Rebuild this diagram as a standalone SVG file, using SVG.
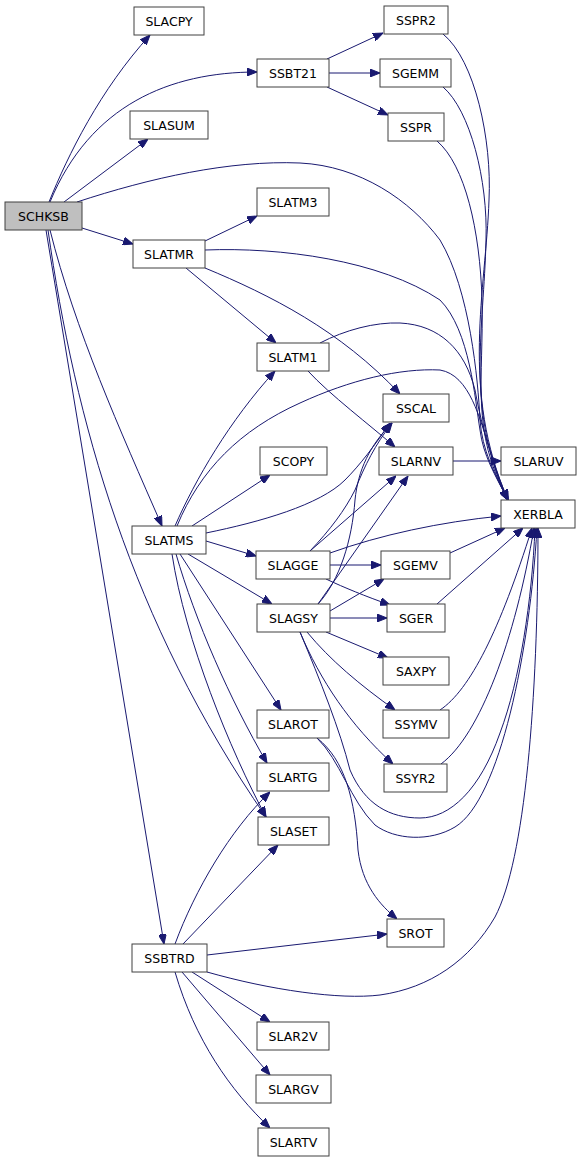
<svg xmlns="http://www.w3.org/2000/svg" width="581" height="1163" viewBox="0 0 581 1163">
<style>
.n rect{fill:#fff;stroke:#404040;stroke-width:1}
.n text{font-family:"DejaVu Sans",sans-serif;font-size:12.5px;text-anchor:middle;fill:#000}
.e path{fill:none;stroke:#191970;stroke-width:1;marker-end:url(#a)}
</style>
<defs>
<marker id="a" markerUnits="userSpaceOnUse" markerWidth="10" markerHeight="8" refX="10" refY="4" orient="auto">
<path d="M0,0 L10,4 L0,8 z" fill="#191970" stroke="#191970" stroke-width="1"/>
</marker>
</defs>
<rect width="581" height="1163" fill="#fff"/>
<g class="e">
<path d="M49,202 C68,155 100,90 150,35"/>
<path d="M50,202 C90,105 170,72 257,72"/>
<path d="M64,202 L148,139"/>
<path d="M77,202 C150,178 230,160 300,163 C360,166 410,200 440,240 C470,290 478,380 480,420 C482,450 495,475 508,500"/>
<path d="M82,228 L133,244"/>
<path d="M50,230 C75,330 120,430 162,526"/>
<path d="M48,230 C75,420 130,620 266,817"/>
<path d="M46,230 L164,944"/>
<path d="M327,59 L383,33"/>
<path d="M329,73 L380,73"/>
<path d="M327,87 L388,115"/>
<path d="M443,34 C475,60 492,140 489,200 C486,290 460,390 508,500"/>
<path d="M443,87 C470,110 488,180 486,240 C484,330 465,410 508,500"/>
<path d="M437,141 C465,165 480,230 482,300 C484,380 470,430 508,500"/>
<path d="M205,241 L257,216"/>
<path d="M186,268 L276,343"/>
<path d="M205,268 C270,295 340,330 400,394"/>
<path d="M205,250 C280,247 380,260 440,300 C470,330 475,400 480,430 C483,455 495,475 508,500"/>
<path d="M320,343 C345,330 375,322 400,323 C440,325 465,350 475,390 C482,430 495,470 508,500"/>
<path d="M308,371 C330,395 370,425 395,447"/>
<path d="M175,526 C195,480 230,420 275,371"/>
<path d="M192,526 L270,475"/>
<path d="M206,533 C260,522 320,505 345,480 C360,465 375,445 390,423"/>
<path d="M177,526 C200,470 240,430 300,403 C350,380 400,368 440,370 C470,375 480,420 490,450 C495,470 500,485 508,500"/>
<path d="M206,541 L256,556"/>
<path d="M188,554 L272,604"/>
<path d="M180,554 L281,710"/>
<path d="M176,554 C195,620 230,700 267,763"/>
<path d="M172,554 C185,640 230,750 266,817"/>
<path d="M310,551 C330,530 345,510 355,490 C365,465 375,445 392,423"/>
<path d="M310,551 L396,476"/>
<path d="M330,553 C380,535 440,522 501,516"/>
<path d="M330,565 L381,565"/>
<path d="M326,579 C345,588 365,596 390,605"/>
<path d="M318,604 C340,580 352,540 355,500 C358,470 370,445 392,423"/>
<path d="M318,604 L408,476"/>
<path d="M330,611 L384,579"/>
<path d="M330,618 L387,618"/>
<path d="M326,632 L388,658"/>
<path d="M307,632 C330,660 360,685 395,710"/>
<path d="M300,632 C320,680 350,725 393,764"/>
<path d="M300,632 C320,680 340,730 350,770 C365,805 390,818 420,818 C450,818 480,790 500,733 C520,680 532,600 535,528"/>
<path d="M317,738 C340,760 350,800 375,825 C395,840 430,842 455,827 C500,800 530,650 537,528"/>
<path d="M317,738 C345,760 355,800 358,850 C362,885 380,905 397,919"/>
<path d="M450,553 L505,528"/>
<path d="M437,604 L523,528"/>
<path d="M440,710 C470,690 500,630 532,528"/>
<path d="M441,764 C480,735 515,640 534,528"/>
<path d="M453,461 L501,461"/>
<path d="M175,944 C195,890 230,830 270,792"/>
<path d="M183,944 L278,845"/>
<path d="M207,955 L387,934"/>
<path d="M207,972 C270,990 340,1000 380,995 C430,988 470,960 495,917 C525,860 538,700 538,528"/>
<path d="M192,972 L270,1022"/>
<path d="M182,972 L270,1075"/>
<path d="M175,972 C195,1040 230,1090 270,1128"/>
</g>
<g id="SCHKSB" class="n"><rect x="5" y="202" width="77" height="28" style="fill:#bfbfbf"/><text x="43.5" y="220.5">SCHKSB</text></g>
<g id="SLACPY" class="n"><rect x="134" y="7" width="70" height="28"/><text x="169" y="25.5">SLACPY</text></g>
<g id="SSBT21" class="n"><rect x="257" y="59" width="72" height="28"/><text x="293" y="77.5">SSBT21</text></g>
<g id="SLASUM" class="n"><rect x="130" y="111" width="78" height="28"/><text x="169" y="129.5">SLASUM</text></g>
<g id="SLATM3" class="n"><rect x="257" y="188" width="72" height="28"/><text x="293" y="206.5">SLATM3</text></g>
<g id="SLATMR" class="n"><rect x="133" y="240" width="72" height="28"/><text x="169" y="258.5">SLATMR</text></g>
<g id="SSPR2" class="n"><rect x="384" y="6" width="64" height="28"/><text x="416" y="24.5">SSPR2</text></g>
<g id="SGEMM" class="n"><rect x="380" y="59" width="71" height="28"/><text x="415.5" y="77.5">SGEMM</text></g>
<g id="SSPR" class="n"><rect x="388" y="113" width="56" height="28"/><text x="416" y="131.5">SSPR</text></g>
<g id="SLATM1" class="n"><rect x="257" y="343" width="72" height="28"/><text x="293" y="361.5">SLATM1</text></g>
<g id="SSCAL" class="n"><rect x="383" y="394" width="66" height="28"/><text x="416" y="412.5">SSCAL</text></g>
<g id="SCOPY" class="n"><rect x="260" y="447" width="67" height="28"/><text x="293.5" y="465.5">SCOPY</text></g>
<g id="SLARNV" class="n"><rect x="379" y="447" width="74" height="28"/><text x="416" y="465.5">SLARNV</text></g>
<g id="SLARUV" class="n"><rect x="501" y="447" width="75" height="28"/><text x="538.5" y="465.5">SLARUV</text></g>
<g id="XERBLA" class="n"><rect x="501" y="500" width="74" height="28"/><text x="538" y="518.5">XERBLA</text></g>
<g id="SLATMS" class="n"><rect x="132" y="526" width="74" height="28"/><text x="169" y="544.5">SLATMS</text></g>
<g id="SLAGGE" class="n"><rect x="256" y="551" width="74" height="28"/><text x="293" y="569.5">SLAGGE</text></g>
<g id="SGEMV" class="n"><rect x="381" y="551" width="69" height="28"/><text x="415.5" y="569.5">SGEMV</text></g>
<g id="SLAGSY" class="n"><rect x="257" y="604" width="73" height="28"/><text x="293.5" y="622.5">SLAGSY</text></g>
<g id="SGER" class="n"><rect x="387" y="604" width="58" height="28"/><text x="416" y="622.5">SGER</text></g>
<g id="SAXPY" class="n"><rect x="383" y="657" width="66" height="28"/><text x="416" y="675.5">SAXPY</text></g>
<g id="SLAROT" class="n"><rect x="257" y="710" width="72" height="28"/><text x="293" y="728.5">SLAROT</text></g>
<g id="SSYMV" class="n"><rect x="383" y="710" width="66" height="28"/><text x="416" y="728.5">SSYMV</text></g>
<g id="SLARTG" class="n"><rect x="257" y="763" width="72" height="28"/><text x="293" y="781.5">SLARTG</text></g>
<g id="SSYR2" class="n"><rect x="384" y="764" width="63" height="28"/><text x="415.5" y="782.5">SSYR2</text></g>
<g id="SLASET" class="n"><rect x="258" y="817" width="71" height="28"/><text x="293.5" y="835.5">SLASET</text></g>
<g id="SROT" class="n"><rect x="387" y="919" width="57" height="28"/><text x="415.5" y="937.5">SROT</text></g>
<g id="SSBTRD" class="n"><rect x="132" y="944" width="75" height="28"/><text x="169.5" y="962.5">SSBTRD</text></g>
<g id="SLAR2V" class="n"><rect x="257" y="1022" width="72" height="28"/><text x="293" y="1040.5">SLAR2V</text></g>
<g id="SLARGV" class="n"><rect x="256" y="1075" width="75" height="28"/><text x="293.5" y="1093.5">SLARGV</text></g>
<g id="SLARTV" class="n"><rect x="258" y="1128" width="71" height="28"/><text x="293.5" y="1146.5">SLARTV</text></g>
</svg>
